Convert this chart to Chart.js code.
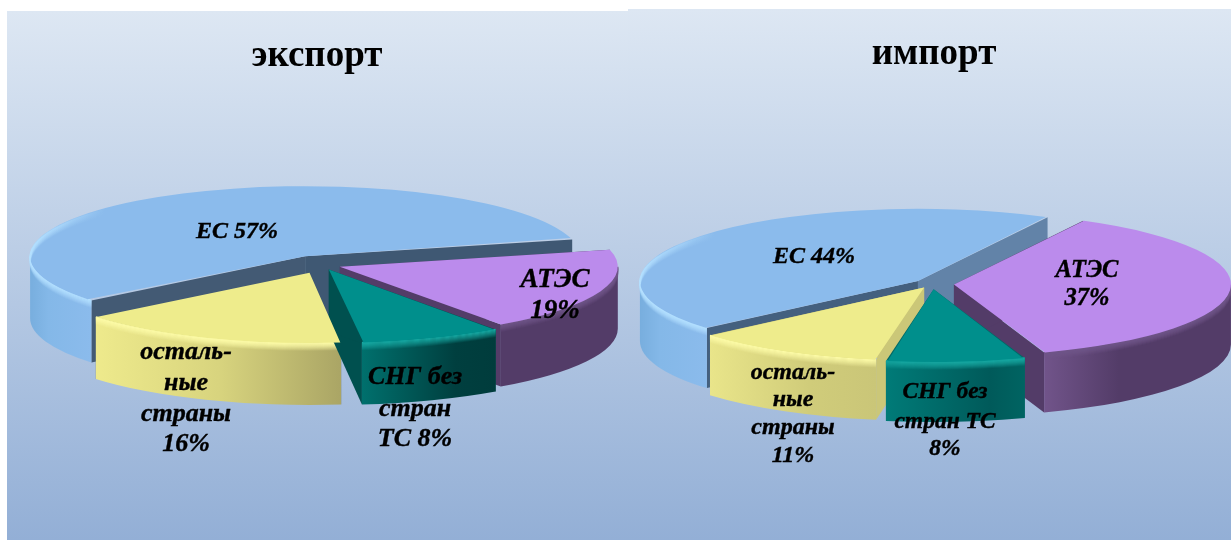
<!DOCTYPE html>
<html><head><meta charset="utf-8">
<script src="https://cdn.jsdelivr.net/npm/chart.js@4"></script>
<style>
html,body{margin:0;padding:0;background:#fff;width:1231px;height:540px;overflow:hidden}
.panel{position:absolute;background:linear-gradient(180deg,#dde7f3 0%,#93afd6 100%)}
#pl{left:7px;top:11px;width:621px;height:529px}
#pr{left:628px;top:9px;width:603px;height:531px}
canvas{position:absolute;top:0}
#cl{left:0}
#cr{left:628px}
</style></head><body>
<div class="panel" id="pl"></div><div class="panel" id="pr"></div>
<canvas id="cl" width="634" height="540"></canvas>
<canvas id="cr" width="612" height="540"></canvas>
<script>
const categories = ['ЕС','АТЭС','СНГ без стран ТС','остальные страны'];
const exportValues = [57,19,8,16];
const importValues = [44,37,8,11];
const exportTitle = 'экспорт';
const importTitle = 'импорт';
const exportLabels = [['ЕС 57%'],['АТЭС','19%'],['СНГ без','стран','ТС 8%'],['осталь-','ные','страны','16%']];
const importLabels = [['ЕС 44%'],['АТЭС','37%'],['СНГ без','стран ТС','8%'],['осталь-','ные','страны','11%']];
const topColors = ['#8bbbec','#bb8bec','#008f8c','#eeec8c'];
const bevelColors = ['#b4e0ff','#6f5588','#17a8a2','#fdfba8'];

const sliceGeometry = (a,o)=>{
  const d=(a.options.offset||0)/4, mid=(a.startAngle+a.endAngle)/2;
  const fix=1-Math.sin(Math.min(Math.PI,a.circumference));
  return {X:o.cx+Math.cos(mid)*d, Y:o.cy+o.k*Math.sin(mid)*d, r:a.outerRadius+d*fix};
};

const pie3d = {
  id:'pie3d',
  afterDatasetsUpdate(chart,args,o){
    chart.getDatasetMeta(0).data.forEach((a,i)=>{
      const d=(a.options.offset||0)/4;
      const fix=1-Math.sin(Math.min(Math.PI,a.circumference));
      a.outerRadius=o.radii[i]-d*fix;
    });
  },
  beforeDatasetsDraw(chart,args,o){
    const ctx=chart.ctx, arcs=chart.getDatasetMeta(0).data, k=o.k, D=o.depth;
    const TAU=Math.PI*2;
    o.order.forEach(i=>{
      const a=arcs[i], {X,Y,r}=sliceGeometry(a,o);
      let a0=a.startAngle%TAU; if(a0<0)a0+=TAU;
      const a1=a0+(a.endAngle-a.startAngle);
      const wall=(ang,col)=>{
        const ex=X+r*Math.cos(ang), ey=Y+k*r*Math.sin(ang);
        ctx.fillStyle=col; ctx.beginPath();
        ctx.moveTo(X,Y);ctx.lineTo(ex,ey);ctx.lineTo(ex,ey+D);ctx.lineTo(X,Y+D);ctx.closePath();ctx.fill();
      };
      wall(a1,o.walls[i][1]);
      wall(a0,o.walls[i][0]);
      [[0,Math.PI],[TAU,TAU+Math.PI]].forEach(([lo,hi])=>{
        const s=Math.max(a0,lo), e=Math.min(a1,hi);
        if(e<=s) return;
        const xa=X+r*Math.cos(e), xb=X+r*Math.cos(s);
        const lx=Math.min(xa,xb,(s<=Math.PI&&e>=Math.PI)?X-r:1e9), rx=Math.max(xa,xb,(s<=0&&e>=0)?X+r:-1e9);
        const gr=ctx.createLinearGradient(lx,0,rx,0);
        o.rims[i].forEach(([p,c])=>gr.addColorStop(p,c));
        ctx.fillStyle=gr; ctx.beginPath();
        ctx.ellipse(X,Y,r,k*r,0,s,e);
        ctx.ellipse(X,Y+D,r,k*r,0,e,s,true);
        ctx.closePath();ctx.fill();
        for(let b=o.bevel;b>=0;b--){
          ctx.save();
          ctx.globalAlpha=1-b/(o.bevel+1);
          ctx.strokeStyle=bevelColors[i];ctx.lineWidth=1.4;
          ctx.beginPath();ctx.ellipse(X,Y+b,r,k*r,0,s,e);ctx.stroke();
          ctx.restore();
        }
      });
    });
    const c=arcs[0];
    ctx.save();
    ctx.translate(o.cx,o.cy);ctx.scale(1,k);ctx.translate(-c.x,-c.y);
  },
  afterDatasetsDraw(chart,args,o){
    const ctx=chart.ctx, k=o.k;
    ctx.restore();
    // highlight of the largest slice running on round its far-left edge
    const {X,Y,r}=sliceGeometry(chart.getDatasetMeta(0).data[0],o);
    for(let b=o.bevel;b>=1;b--){
      const gr=ctx.createLinearGradient(X-r,0,X-r+75,0);
      gr.addColorStop(0,bevelColors[0]);gr.addColorStop(1,'rgba(180,224,255,0)');
      ctx.save();ctx.globalAlpha=1-b/(o.bevel+1);ctx.strokeStyle=gr;ctx.lineWidth=1.4;
      ctx.beginPath();ctx.ellipse(X,Y+b,r,k*r,0,Math.PI,Math.PI+0.95);ctx.stroke();ctx.restore();
    }
    ctx.fillStyle='#000';ctx.strokeStyle='#000';ctx.lineWidth=0.4;ctx.textAlign='center';ctx.textBaseline='alphabetic';
    o.labels.forEach((lines,i)=>{
      ctx.font='italic bold '+o.fontSizes[i]+'px "Liberation Serif"';
      lines.forEach((t,j)=>{ctx.fillText(t,o.labelX[i],o.labelY[i][j]);ctx.strokeText(t,o.labelX[i],o.labelY[i][j]);});
    });
  }
};

function make(id,values,title,titleTop,rotation,offsets,po){
  return new Chart(document.getElementById(id),{
    type:'pie',
    data:{labels:categories,datasets:[{data:values,backgroundColor:topColors,borderWidth:0,offset:offsets,radius:po.radii[0],clip:false}]},
    options:{
      responsive:false,animation:false,events:[],rotation,
      plugins:{
        legend:{display:false},tooltip:{enabled:false},
        title:{display:true,text:title,color:'#000',font:{family:'"Liberation Serif"',size:37,weight:'bold'},padding:{top:titleTop,bottom:0}},
        pie3d:po
      }
    },
    plugins:[pie3d]
  });
}

make('cl',exportValues,exportTitle,34,-129,[152,76,76,132],{
  cx:322,cy:265,k:0.255,depth:62,bevel:7,
  radii:[275,278,288,275],order:[0,1,3,2],
  walls:[['#435a74','#3f5873'],['#533c68','#533c68'],['#00504f','#00504f'],['#3f5873','#3f5873']],
  rims:[[[0,'#78aede'],[0.3,'#84b8e8'],[1,'#8bbbec']],[[0,'#533c68'],[1,'#533c68']],[[0,'#00706d'],[0.7,'#003f3f'],[1,'#003c3c']],[[0,'#eeea8c'],[0.5,'#d8d47e'],[1,'#aaa565']]],
  labels:exportLabels,fontSizes:[24,27,26,26],
  labelX:[237,555,415,186],
  labelY:[[238],[287,318],[384,416,446],[359,390,421,451]]
});
make('cr',importValues,importTitle,32,-130.6,[72,88,80,64],{
  cx:304,cy:284,k:0.26,depth:60,bevel:7,
  radii:[278,277,280,282],order:[0,1,3,2],
  walls:[['#44607f','#6283a8'],['#533c68','#533c68'],['#006a68','#006a68'],['#cbc778','#cbc778']],
  rims:[[[0,'#78aede'],[0.3,'#84b8e8'],[1,'#8bbbec']],[[0,'#71548a'],[0.4,'#533c68'],[1,'#533c68']],[[0,'#007b78'],[0.75,'#005a5a'],[1,'#006462']],[[0,'#e9e58a'],[0.6,'#d0cc7a'],[1,'#cac678']]],
  labels:importLabels,fontSizes:[24,24.5,23.5,24],
  labelX:[186,459,317,165],
  labelY:[[263],[277,305],[398,428,455],[379,406,434,462]]
});
</script>
</body></html>
